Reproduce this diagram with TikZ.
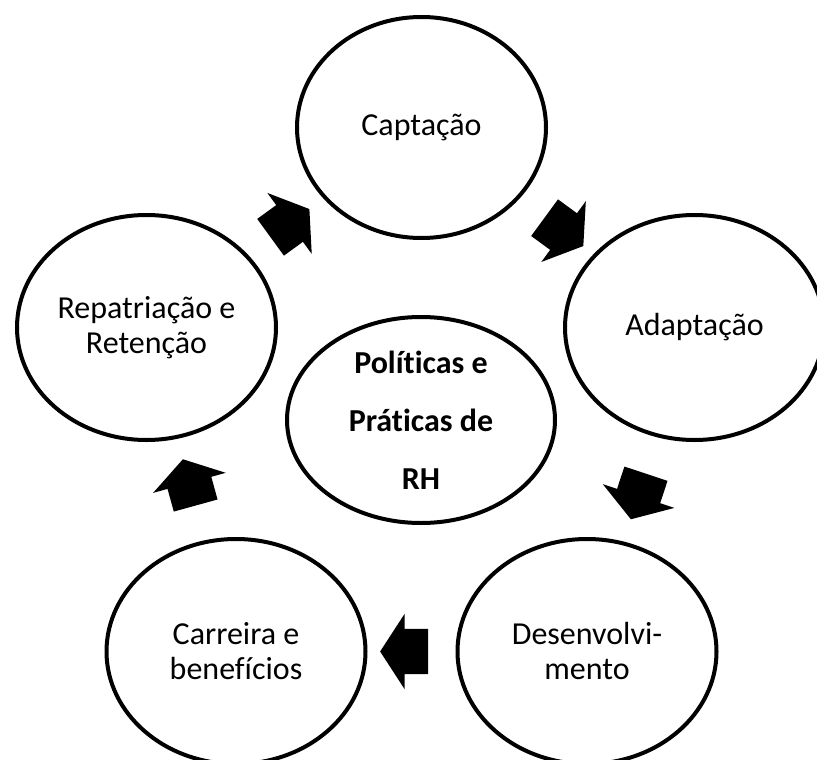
\documentclass[tikz,border=0pt]{standalone}
\usepackage{fontspec}
\setmainfont[Ligatures=NoCommon]{Carlito}
\usetikzlibrary{shapes.geometric, shapes.arrows}

\begin{document}
\begin{tikzpicture}[x=1pt, y=1pt,
    stage/.style={ellipse, draw, line width=4pt, minimum width=259pt, minimum height=225pt,
        inner sep=0pt, align=center, font=\fontsize{32}{35}\selectfont},
    core/.style={stage, minimum width=268pt, minimum height=206pt,
        font=\fontsize{32}{58}\selectfont\bfseries},
    cyclearrow/.style={single arrow, fill=black, draw=none, inner xsep=0pt, inner ysep=22.5pt,
        minimum height=48pt, single arrow head extend=15pt,
        single arrow tip angle=114, midway, sloped, allow upside down}]
    \useasboundingbox (0,0) rectangle (817,-760);

    % the five stages
    \node[stage, minimum width=249pt, minimum height=221pt] (capt) at (421.5,-127.5) {Captação};
    \node[stage] (adap) at (694.5,-327.5) {Adaptação};
    \node[stage] (desv) at (587,-651.5) {Desenvolvi-\\mento};
    \node[stage] (carr) at (236,-651.5) {Carreira e\\benefícios};
    \node[stage] (repa) at (146.5,-327.5) {Repatriação e\\Retenção};

    % centre
    \node[core] (rh) at (421,-420) {Políticas e\\Práticas de\\RH};

    % arrows of the cycle
    \path (capt.center) -- node[cyclearrow] {} (adap.center);
    \path (adap.center) -- node[cyclearrow] {} (desv.center);
    \path (desv.center) -- node[cyclearrow] {} (carr.center);
    \path (carr.center) -- node[cyclearrow] {} (repa.center);
    \path (repa.center) -- node[cyclearrow] {} (capt.center);
\end{tikzpicture}
\end{document}
